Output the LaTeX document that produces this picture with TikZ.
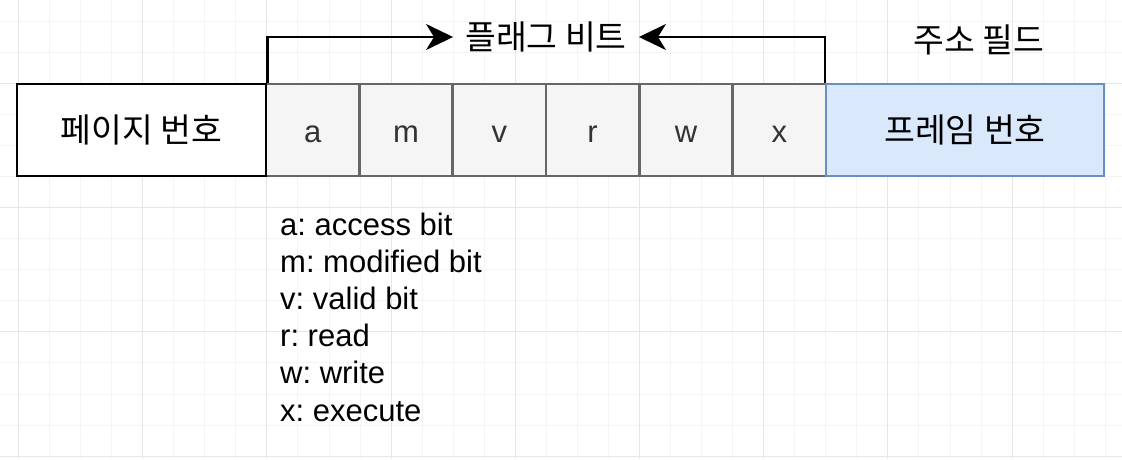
\documentclass[tikz,border=0pt]{standalone}
\usepackage{fontspec}
\setmainfont{Liberation Sans}
\newfontfamily\kr{Noto Sans CJK KR}[Scale=1.08]
\usetikzlibrary{arrows.meta}
\definecolor{gridminor}{HTML}{F4F4F4}
\definecolor{gridmajor}{HTML}{E6E6E6}
\definecolor{cellfill}{HTML}{F5F5F5}
\definecolor{celldraw}{HTML}{666666}
\definecolor{celltext}{HTML}{333333}
\definecolor{framefill}{HTML}{DAE8FC}
\definecolor{framedraw}{HTML}{6C8EBF}
\frenchspacing

\begin{document}
\begin{tikzpicture}[x=1pt, y=-1pt,
        every node/.style={font=\fontsize{31}{37.2}\selectfont, text height=26pt, text depth=2pt},
        flagcell/.style={draw=celldraw, fill=cellfill, text=celltext, line width=2.5pt,
            minimum width=93.33pt, minimum height=92pt, inner sep=0pt},
        pagebox/.style={draw=black, fill=white, line width=2.8pt,
            minimum width=249pt, minimum height=92pt, inner sep=0pt},
        framebox/.style={draw=framedraw, fill=framefill, text=black, line width=2.5pt,
            minimum width=278pt, minimum height=92pt, inner sep=0pt},
        flagarrow/.style={line width=2.5pt, -{Stealth[length=27pt, width=26pt, inset=8pt]}},
        legend/.style={anchor=base west, inner sep=0pt, text height=, text depth=}]

        \useasboundingbox (0,0) rectangle (1122,459);

        % grid
        \foreach \i in {-1,...,35}
            \draw[gridminor, line width=1pt] ({18.5+31.05*\i},0) -- ({18.5+31.05*\i},459);
        \foreach \j in {-2,...,12}
            \draw[gridminor, line width=1pt] (0,{83.5+31.05*\j}) -- (1122,{83.5+31.05*\j});
        \foreach \i in {0,4,...,32}
            \draw[gridmajor, line width=1pt] ({18.5+31.05*\i},0) -- ({18.5+31.05*\i},459);
        \foreach \j in {0,4,8,12}
            \draw[gridmajor, line width=1pt] (0,{83.5+31.05*\j}) -- (1122,{83.5+31.05*\j});

        \foreach \b [count=\i from 0] in {a,m,v,r,w,x}
            \node[flagcell] (\b) at ({266+93.33*(\i+0.5)},130) {\b};

        \node[pagebox] (page) at (141.5,130) {\kr 페이지 번호};
        \node[framebox] (frame) at (965,130) {\kr 프레임 번호};

        \node[inner xsep=12pt, inner ysep=0pt] (flag) at (546,37) {\kr 플래그 비트};
        \node[inner sep=0pt] (field) at (979,40) {\kr 주소 필드};

        \draw[flagarrow] (page.north east) |- (flag.west);
        \draw[flagarrow] (frame.north west) |- (flag.east);

        \foreach \t [count=\i from 0] in {a: access bit, m: modified bit, v: valid bit,
                r: read, w: write, x: execute}
            \node[legend] (leg\i) at (280,{235+37.2*\i}) {\t};

    \end{tikzpicture}
\end{document}
